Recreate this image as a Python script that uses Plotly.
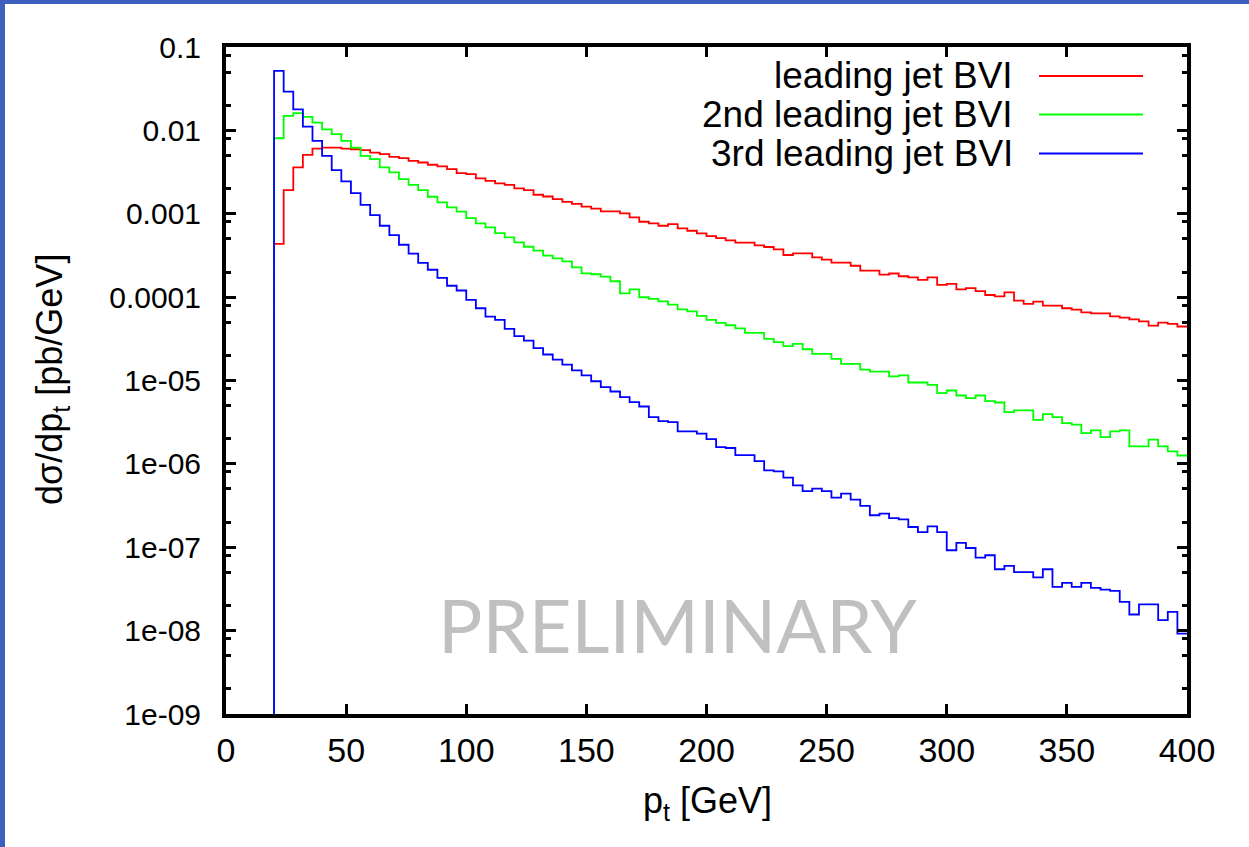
import plotly.graph_objects as go

# ---------------- data ----------------
bin_start = 20          # GeV, first bin lower edge
bin_width = 4           # GeV
pt_max = 400

lead_jet = [
    4.34e-4, 1.92e-3, 3.59e-3, 5.09e-3, 6.05e-3, 6.22e-3, 6.22e-3, 6.05e-3, 5.94e-3, 5.78e-3,
    5.42e-3, 5.19e-3, 4.82e-3, 4.65e-3, 4.31e-3, 4.12e-3, 3.87e-3, 3.69e-3, 3.43e-3, 3.07e-3,
    2.99e-3, 2.65e-3, 2.48e-3, 2.31e-3, 2.22e-3, 2.01e-3, 1.92e-3, 1.69e-3, 1.61e-3, 1.50e-3,
    1.39e-3, 1.31e-3, 1.22e-3, 1.15e-3, 1.07e-3, 1.07e-3, 1.01e-3, 9.04e-4, 8.02e-4, 7.66e-4,
    7.18e-4, 7.52e-4, 6.67e-4, 6.25e-4, 5.81e-4, 5.40e-4, 5.11e-4, 4.79e-4, 4.50e-4, 4.50e-4,
    4.17e-4, 3.99e-4, 3.74e-4, 3.20e-4, 3.35e-4, 3.35e-4, 3.00e-4, 2.81e-4, 2.59e-4, 2.59e-4,
    2.38e-4, 2.08e-4, 2.08e-4, 1.86e-4, 1.92e-4, 1.78e-4, 1.73e-4, 1.61e-4, 1.73e-4, 1.40e-4,
    1.44e-4, 1.24e-4, 1.28e-4, 1.18e-4, 1.06e-4, 1.02e-4, 1.14e-4, 9.08e-5, 8.28e-5, 8.83e-5,
    7.91e-5, 7.91e-5, 7.35e-5, 7.08e-5, 6.58e-5, 6.40e-5, 6.40e-5, 5.89e-5, 5.68e-5, 5.42e-5,
    5.13e-5, 4.56e-5, 4.95e-5, 4.78e-5, 4.44e-5,
]

second_jet = [
    8.05e-3, 1.49e-2, 1.61e-2, 1.45e-2, 1.24e-2, 1.03e-2, 9.00e-3, 7.48e-3, 6.22e-3, 4.95e-3,
    4.52e-3, 3.59e-3, 3.13e-3, 2.60e-3, 2.22e-3, 1.92e-3, 1.60e-3, 1.37e-3, 1.19e-3, 1.06e-3,
    8.87e-4, 7.65e-4, 6.86e-4, 5.87e-4, 5.20e-4, 4.53e-4, 4.02e-4, 3.61e-4, 3.14e-4, 2.92e-4,
    2.69e-4, 2.28e-4, 1.93e-4, 1.88e-4, 1.76e-4, 1.55e-4, 1.11e-4, 1.24e-4, 9.96e-5, 9.51e-5,
    8.91e-5, 8.13e-5, 7.14e-5, 6.76e-5, 5.95e-5, 5.33e-5, 4.91e-5, 4.60e-5, 4.23e-5, 3.72e-5,
    3.72e-5, 3.15e-5, 2.88e-5, 2.58e-5, 2.75e-5, 2.37e-5, 2.09e-5, 2.09e-5, 1.82e-5, 1.58e-5,
    1.58e-5, 1.35e-5, 1.28e-5, 1.28e-5, 1.12e-5, 1.15e-5, 9.46e-6, 9.46e-6, 8.88e-6, 7.05e-6,
    7.59e-6, 6.61e-6, 6.14e-6, 6.61e-6, 5.65e-6, 5.45e-6, 4.17e-6, 4.37e-6, 4.37e-6, 3.38e-6,
    3.95e-6, 3.64e-6, 3.08e-6, 2.95e-6, 2.34e-6, 2.52e-6, 2.09e-6, 2.45e-6, 2.52e-6, 1.62e-6,
    1.62e-6, 1.95e-6, 1.62e-6, 1.41e-6, 1.26e-6,
]

third_jet = [
    5.16e-2, 2.92e-2, 1.79e-2, 1.11e-2, 7.50e-3, 4.95e-3, 3.34e-3, 2.44e-3, 1.77e-3, 1.28e-3,
    9.64e-4, 7.18e-4, 5.55e-4, 4.25e-4, 3.32e-4, 2.57e-4, 2.13e-4, 1.70e-4, 1.37e-4, 1.20e-4,
    9.27e-5, 7.35e-5, 5.84e-5, 5.33e-5, 4.16e-5, 3.40e-5, 3.01e-5, 2.44e-5, 2.05e-5, 1.78e-5,
    1.55e-5, 1.32e-5, 1.15e-5, 9.80e-6, 8.32e-6, 7.38e-6, 6.31e-6, 5.50e-6, 4.88e-6, 3.64e-6,
    3.26e-6, 3.17e-6, 2.45e-6, 2.45e-6, 2.30e-6, 1.98e-6, 1.59e-6, 1.55e-6, 1.27e-6, 1.27e-6,
    1.08e-6, 8.35e-7, 8.13e-7, 6.83e-7, 5.53e-7, 4.72e-7, 5.04e-7, 4.72e-7, 3.93e-7, 4.40e-7,
    3.73e-7, 3.13e-7, 2.42e-7, 2.53e-7, 2.24e-7, 2.16e-7, 1.75e-7, 1.52e-7, 1.78e-7, 1.52e-7,
    9.20e-8, 1.13e-7, 9.80e-8, 7.52e-8, 8.02e-8, 5.45e-8, 5.97e-8, 5.02e-8, 5.02e-8, 4.34e-8,
    5.45e-8, 3.35e-8, 3.74e-8, 3.35e-8, 3.74e-8, 3.26e-8, 3.11e-8, 3.00e-8, 2.21e-8, 1.56e-8,
    2.07e-8, 2.07e-8, 1.34e-8, 1.68e-8, 9.20e-9,
]

series_names = ["leading jet BVI", "2nd leading jet BVI", "3rd leading jet BVI"]
series_colors = ["#ff0000", "#00ff00", "#0000ff"]

x_tickvals = [0, 50, 100, 150, 200, 250, 300, 350, 400]
y_tickvals = [1e-9, 1e-8, 1e-7, 1e-6, 1e-5, 1e-4, 1e-3, 1e-2, 1e-1]
y_ticktext = ["1e-09", "1e-08", "1e-07", "1e-06", "1e-05", "0.0001", "0.001", "0.01", "0.1"]
y_minor_vals = [m * d for d in [1e-9, 1e-8, 1e-7, 1e-6, 1e-5, 1e-4, 1e-3, 1e-2] for m in (2, 5, 8)]

# ---------------- layout geometry ----------------
W, H = 1249, 847
ML, MR, MT, MB = 226, 62, 47, 133
PW, PH = W - ML - MR, H - MT - MB


def px(x):
    return (x - ML) / PW


def py(y):
    return (H - MB - y) / PH


FONT = "Liberation Sans, Arial, sans-serif"

fig = go.Figure()


def hist_steps(vals):
    edges = [bin_start + i * bin_width for i in range(len(vals))]
    xs = [bin_start] + edges + [pt_max]
    ys = [1e-14] + list(vals) + [vals[-1]]
    return xs, ys


for vals, name, col in zip([lead_jet, second_jet, third_jet], series_names, series_colors):
    xs, ys = hist_steps(vals)
    fig.add_trace(go.Scatter(x=xs, y=ys, mode="lines", line=dict(color=col, width=1.8, shape="hv"),
                             name=name, showlegend=False, hoverinfo="skip"))

# legend (gnuplot style: text on the left, sample on the right)
legend_rows_y = [76, 114.5, 153.5]
for name, col, ry in zip(series_names, series_colors, legend_rows_y):
    fig.add_annotation(x=px(1015), y=py(ry), xref="paper", yref="paper", text=name,
                       showarrow=False, xanchor="right", yanchor="middle",
                       font=dict(family=FONT, size=37, color="black"))
    fig.add_shape(type="line", xref="paper", yref="paper", x0=px(1039), x1=px(1143),
                  y0=py(ry), y1=py(ry), line=dict(color=col, width=1.8))

# watermark
fig.add_annotation(x=px(678), y=py(624), xref="paper", yref="paper", text="PRELIMINARY",
                   showarrow=False, xanchor="center", yanchor="middle",
                   font=dict(family="Lato, Open Sans, sans-serif", size=74, color="#c0c0c0"))

# axis titles
fig.add_annotation(x=px(52), y=py(380), xref="paper", yref="paper",
                   text="dσ/dp<sub>t</sub> [pb/GeV]", textangle=-90, showarrow=False,
                   xanchor="center", yanchor="middle", font=dict(family=FONT, size=36, color="black"))
fig.add_annotation(x=px(707), y=py(803), xref="paper", yref="paper",
                   text="p<sub>t</sub> [GeV]", showarrow=False,
                   xanchor="center", yanchor="middle", font=dict(family=FONT, size=36, color="black"))

# slide frame (blue bars on top and left)
fig.add_shape(type="rect", xref="paper", yref="paper", x0=px(0), x1=px(W), y0=py(4), y1=py(-2),
              fillcolor="#3f5fbd", line=dict(width=0), layer="above")
fig.add_shape(type="rect", xref="paper", yref="paper", x0=px(-2), x1=px(5), y0=py(H + 2), y1=py(-2),
              fillcolor="#3f5fbd", line=dict(width=0), layer="above")

fig.update_layout(
    width=W, height=H,
    margin=dict(l=ML, r=MR, t=MT, b=MB, pad=0),
    paper_bgcolor="white", plot_bgcolor="white",
    showlegend=False,
    font=dict(family=FONT, color="black"),
    xaxis=dict(range=[0, 400], tickmode="array", tickvals=x_tickvals,
               showgrid=False, zeroline=False, showline=True, linecolor="black", linewidth=4,
               mirror="ticks", ticks="inside", ticklen=10, tickwidth=3, tickcolor="black",
               tickfont=dict(family=FONT, size=34, color="black"), ticklabelstandoff=3),
    yaxis=dict(type="log", range=[-9, -1], tickmode="array", tickvals=y_tickvals, ticktext=y_ticktext,
               showgrid=False, zeroline=False, showline=True, linecolor="black", linewidth=4,
               mirror="ticks", ticks="inside", ticklen=10, tickwidth=3, tickcolor="black",
               minor=dict(tickmode="array", tickvals=y_minor_vals, ticks="inside", ticklen=5,
                          tickwidth=3, tickcolor="black", showgrid=False),
               tickfont=dict(family=FONT, size=30, color="black"), ticklabelstandoff=15),
)

fig.write_html("out.html")
